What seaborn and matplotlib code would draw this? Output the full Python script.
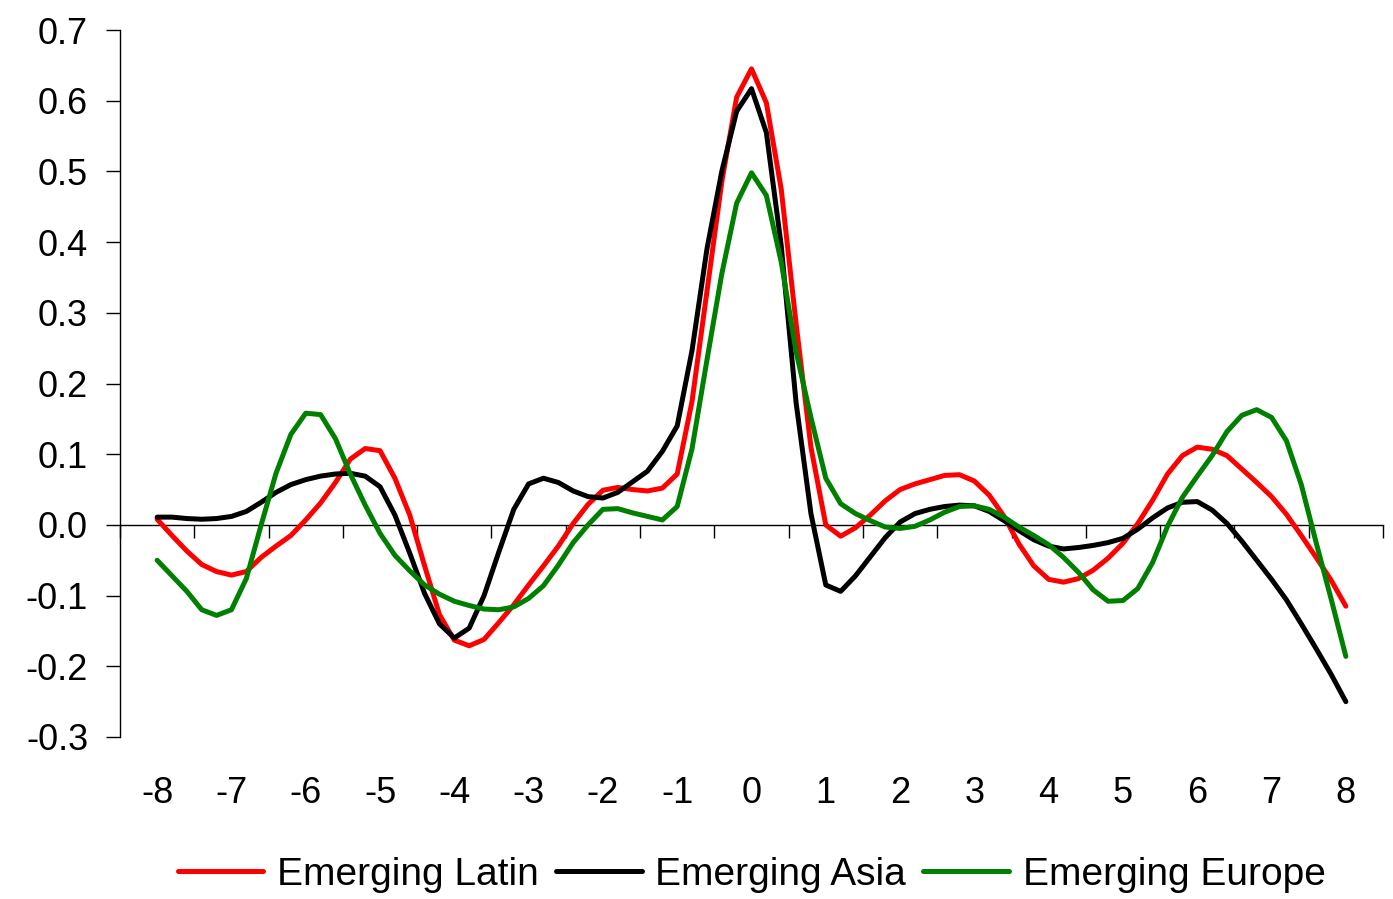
import numpy as np
import pandas as pd
import matplotlib
matplotlib.use('Agg')
import matplotlib.pyplot as plt
import seaborn as sns

# lag (-8..8, step 0.2)
lags = np.round(np.arange(-8, 8.01, 0.2), 1)

latin = [0.008, -0.015, -0.037, -0.056, -0.066, -0.071, -0.066, -0.046, -0.030, -0.015,
         0.007, 0.031, 0.060, 0.093, 0.108, 0.105, 0.066, 0.014, -0.058, -0.127,
         -0.163, -0.171, -0.162, -0.138, -0.113, -0.085, -0.058, -0.030, 0.002, 0.029,
         0.049, 0.053, 0.050, 0.048, 0.052, 0.072, 0.175, 0.330, 0.485, 0.605,
         0.645, 0.597, 0.475, 0.285, 0.110, 0.000, -0.016, -0.004, 0.014, 0.034,
         0.050, 0.058, 0.064, 0.070, 0.071, 0.062, 0.042, 0.012, -0.027, -0.058,
         -0.077, -0.081, -0.076, -0.064, -0.047, -0.026, 0.002, 0.035, 0.072, 0.098,
         0.110, 0.107, 0.098, 0.079, 0.060, 0.040, 0.015, -0.015, -0.046, -0.078,
         -0.115]

asia = [0.011, 0.011, 0.009, 0.008, 0.009, 0.012, 0.019, 0.032, 0.046, 0.057,
        0.064, 0.069, 0.072, 0.073, 0.069, 0.054, 0.014, -0.040, -0.097, -0.140,
        -0.160, -0.146, -0.100, -0.038, 0.022, 0.058, 0.066, 0.060, 0.048, 0.040,
        0.038, 0.046, 0.061, 0.076, 0.104, 0.140, 0.247, 0.390, 0.500, 0.585,
        0.617, 0.555, 0.395, 0.173, 0.016, -0.085, -0.094, -0.072, -0.045, -0.018,
        0.004, 0.016, 0.022, 0.026, 0.028, 0.027, 0.019, 0.006, -0.008, -0.021,
        -0.030, -0.034, -0.032, -0.029, -0.025, -0.019, -0.006, 0.010, 0.024, 0.032,
        0.033, 0.021, 0.002, -0.023, -0.050, -0.077, -0.106, -0.140, -0.175, -0.211,
        -0.250]

europe = [-0.050, -0.072, -0.094, -0.120, -0.128, -0.120, -0.076, 0.000, 0.073, 0.128,
          0.158, 0.156, 0.122, 0.072, 0.028, -0.012, -0.043, -0.065, -0.085, -0.098,
          -0.108, -0.114, -0.119, -0.120, -0.116, -0.104, -0.086, -0.057, -0.025, 0.000,
          0.022, 0.023, 0.017, 0.012, 0.007, 0.026, 0.108, 0.233, 0.355, 0.455,
          0.498, 0.466, 0.372, 0.245, 0.152, 0.066, 0.030, 0.016, 0.006, -0.003,
          -0.005, -0.002, 0.007, 0.018, 0.026, 0.027, 0.022, 0.011, -0.003, -0.015,
          -0.028, -0.046, -0.067, -0.092, -0.108, -0.107, -0.090, -0.053, -0.002, 0.039,
          0.069, 0.098, 0.132, 0.155, 0.163, 0.152, 0.119, 0.057, -0.025, -0.104,
          -0.186]

names = ['Emerging Latin', 'Emerging Asia', 'Emerging Europe']
colors = ['#ff0000', '#000000', '#008000']

sns.set_style('white')
plt.rcParams['font.family'] = ['Liberation Sans', 'DejaVu Sans']
plt.rcParams['axes.unicode_minus'] = False
plt.rcParams['text.color'] = 'black'
plt.rcParams['xtick.color'] = 'black'
plt.rcParams['ytick.color'] = 'black'

fig = plt.figure(figsize=(13.93, 8.99), dpi=100)
ax = fig.add_axes([120 / 1393, 162 / 899, 1263 / 1393, 707 / 899])

for name, vals, c in zip(names, [latin, asia, europe], colors):
    sns.lineplot(x=lags, y=vals, color=c, linewidth=3.6, label=name, legend=False,
                 ax=ax, solid_joinstyle='round', solid_capstyle='round')

ax.set_xlim(-8.5, 8.5)
ax.set_ylim(-0.3, 0.7)
ax.set_xlabel('')
ax.set_ylabel('')

# y axis
ax.set_yticks(np.round(np.arange(-0.3, 0.71, 0.1), 1))
ax.yaxis.set_major_formatter(matplotlib.ticker.FormatStrFormatter('%.1f'))
ax.tick_params(axis='y', direction='out', length=10, width=1, color='black',
               labelcolor='black', labelsize=26, pad=13, left=True)
for s in ['top', 'right', 'bottom']:
    ax.spines[s].set_visible(False)
ax.spines['left'].set_color('black')
ax.spines['left'].set_linewidth(1)

# category labels at the bottom
ax.set_xticks(np.arange(-8, 9, 1))
ax.tick_params(axis='x', length=0, labelsize=26, labelcolor='black', pad=28,
               bottom=True)

# axis line crossing at zero with ticks between categories
zax = ax.secondary_xaxis(0.3)
zax.set_xticks(np.arange(-8.5, 8.6, 1))
zax.tick_params(axis='x', direction='out', length=9, width=1, color='black',
                labelbottom=False, labeltop=False)
zax.spines['bottom'].set_color('black')
zax.spines['bottom'].set_linewidth(1)

handles, labels = ax.get_legend_handles_labels()
fig.legend(handles, labels, loc='center', bbox_to_anchor=(0.5395, 0.027), ncol=3,
           frameon=False, fontsize=28, handlelength=2.2, handletextpad=0.35,
           columnspacing=0.45, labelcolor='black')

fig.savefig('out.png', dpi=100)
